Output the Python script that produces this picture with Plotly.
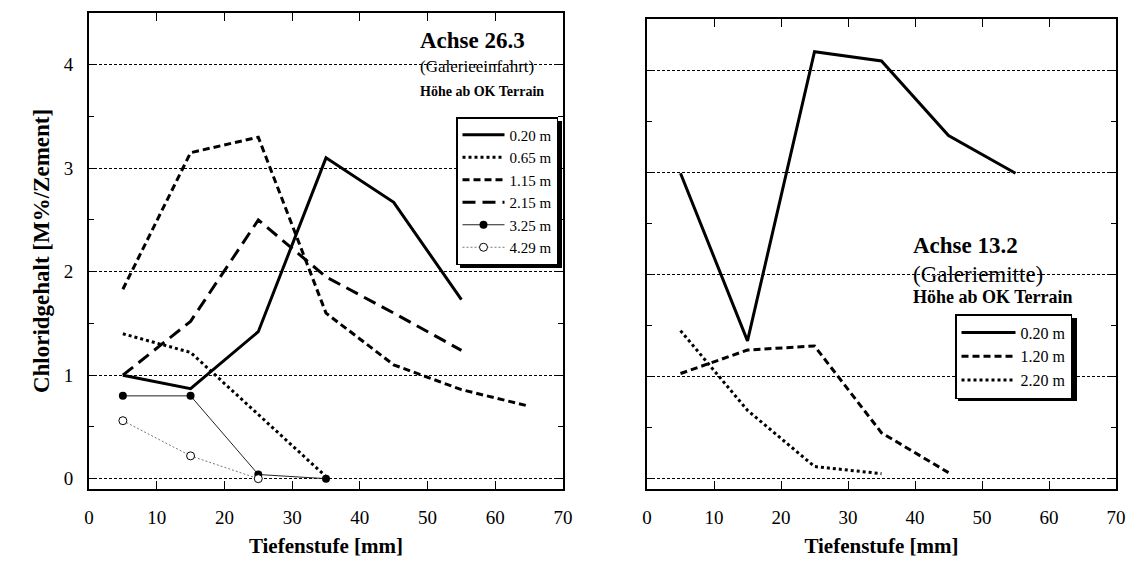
import plotly.graph_objects as go

W, H = 1136, 563
FONT = "Liberation Serif"

# ---- data (left: Achse 26.3) ----
depth = [5, 15, 25, 35, 45, 55, 65]
left_names = ["0.20 m", "0.65 m", "1.15 m", "2.15 m", "3.25 m", "4.29 m"]
l_020 = [1.00, 0.87, 1.42, 3.10, 2.67, 1.73]
l_065 = [1.40, 1.22, 0.62, 0.02]
l_115 = [1.83, 3.15, 3.30, 1.60, 1.10, 0.86, 0.70]
l_215 = [1.00, 1.52, 2.50, 1.95, 1.60, 1.24]
l_325 = [0.80, 0.80, 0.04, 0.00]
l_429 = [0.56, 0.22, 0.00]

# ---- data (right: Achse 13.2) ----
right_names = ["0.20 m", "1.20 m", "2.20 m"]
r_020 = [2.99, 1.35, 4.18, 4.09, 3.36, 2.99]
r_120 = [1.03, 1.26, 1.30, 0.45, 0.06]
r_220 = [1.45, 0.67, 0.12, 0.05]

xticks = [0, 10, 20, 30, 40, 50, 60, 70]
yticks = [0, 1, 2, 3, 4]
yminor = [0.5, 1.5, 2.5, 3.5]


def px(x):
    return x / W


def py(y):
    return 1 - y / H


fig = go.Figure()

lw = 3
fig.add_trace(go.Scatter(x=depth[:len(l_020)], y=l_020, name=left_names[0], mode="lines",
                         line=dict(color="black", width=lw), xaxis="x", yaxis="y", legend="legend"))
fig.add_trace(go.Scatter(x=depth[:len(l_065)], y=l_065, name=left_names[1], mode="lines",
                         line=dict(color="black", width=lw, dash="3px,3px"), xaxis="x", yaxis="y", legend="legend"))
fig.add_trace(go.Scatter(x=depth[:len(l_115)], y=l_115, name=left_names[2], mode="lines",
                         line=dict(color="black", width=lw, dash="7px,4px"), xaxis="x", yaxis="y", legend="legend"))
fig.add_trace(go.Scatter(x=depth[:len(l_215)], y=l_215, name=left_names[3], mode="lines",
                         line=dict(color="black", width=lw, dash="13px,7px"), xaxis="x", yaxis="y", legend="legend"))
fig.add_trace(go.Scatter(x=depth[:len(l_325)], y=l_325, name=left_names[4], mode="lines+markers",
                         line=dict(color="#222222", width=1),
                         marker=dict(symbol="circle", size=8, color="black"),
                         xaxis="x", yaxis="y", legend="legend"))
fig.add_trace(go.Scatter(x=depth[:len(l_429)], y=l_429, name=left_names[5], mode="lines+markers",
                         line=dict(color="#777777", width=1, dash="2px,2px"),
                         marker=dict(symbol="circle", size=8, color="white",
                                     line=dict(color="black", width=1)),
                         xaxis="x", yaxis="y", legend="legend"))

fig.add_trace(go.Scatter(x=depth[:len(r_020)], y=r_020, name=right_names[0], mode="lines",
                         line=dict(color="black", width=lw), xaxis="x2", yaxis="y2", legend="legend2"))
fig.add_trace(go.Scatter(x=depth[:len(r_120)], y=r_120, name=right_names[1], mode="lines",
                         line=dict(color="black", width=lw, dash="7px,4px"), xaxis="x2", yaxis="y2", legend="legend2"))
fig.add_trace(go.Scatter(x=depth[:len(r_220)], y=r_220, name=right_names[2], mode="lines",
                         line=dict(color="black", width=lw, dash="3px,3px"), xaxis="x2", yaxis="y2", legend="legend2"))

xcommon = dict(range=[0, 70], tickvals=xticks, ticks="inside", ticklen=8, tickwidth=1,
               tickcolor="black", showline=True, linewidth=2, linecolor="black", mirror="ticks",
               showgrid=False, zeroline=False, tickfont=dict(family=FONT, size=19, color="black"),
               automargin=False, fixedrange=True, ticklabelstandoff=10,
               title=dict(text="<b>Tiefenstufe [mm]</b>", font=dict(family=FONT, size=21, color="black"),
                          standoff=12))
ycommon = dict(range=[-0.1, 4.5], tickvals=yticks, ticks="inside", ticklen=7, tickwidth=1,
               tickcolor="black", showline=True, linewidth=2, linecolor="black", mirror="ticks",
               showgrid=True, gridcolor="black", gridwidth=1, griddash="3px,2px", zeroline=False,
               minor=dict(tickvals=yminor, ticks="inside", ticklen=5, tickcolor="black", showgrid=False),
               automargin=False, fixedrange=True,
               tickfont=dict(family=FONT, size=19, color="black"))

fig.update_layout(
    width=W, height=H,
    margin=dict(l=0, r=0, t=0, b=0),
    paper_bgcolor="white", plot_bgcolor="white",
    font=dict(family=FONT, color="black"),
    xaxis=dict(domain=[px(89), px(563)], anchor="y", **xcommon),
    yaxis=dict(domain=[py(489), py(13)], anchor="x", ticklabelstandoff=10,
               title=dict(text="<b>Chloridgehalt [M%/Zement]</b>",
                          font=dict(family=FONT, size=23, color="black"), standoff=8),
               **ycommon),
    xaxis2=dict(domain=[px(647), px(1116)], anchor="y2", **xcommon),
    yaxis2=dict(domain=[py(489), py(19)], anchor="x2", showticklabels=False, **ycommon),
    legend=dict(x=px(456), y=py(117), xanchor="left", yanchor="top", bgcolor="white",
                bordercolor="black", borderwidth=1.5, font=dict(family=FONT, size=15, color="black"),
                tracegroupgap=0, itemwidth=42),
    legend2=dict(x=px(955), y=py(314), xanchor="left", yanchor="top", bgcolor="white",
                 bordercolor="black", borderwidth=1.5, font=dict(family=FONT, size=16, color="black"),
                 tracegroupgap=0, itemwidth=54),
    showlegend=True,
)

# white backing behind the text blocks and drop shadows of legends
shapes = [
    dict(type="rect", xref="paper", yref="paper", x0=px(412), x1=px(537), y0=py(100), y1=py(27),
         fillcolor="white", line=dict(width=0), layer="between"),
    dict(type="rect", xref="paper", yref="paper", x0=px(907), x1=px(1078), y0=py(306), y1=py(233),
         fillcolor="white", line=dict(width=0), layer="between"),
    dict(type="rect", xref="paper", yref="paper", x0=px(460), x1=px(562), y0=py(268), y1=py(121),
         fillcolor="black", line=dict(width=0), layer="above"),
    dict(type="rect", xref="paper", yref="paper", x0=px(958), x1=px(1077), y0=py(401), y1=py(318),
         fillcolor="black", line=dict(width=0), layer="above"),
]
fig.update_layout(shapes=shapes)

ann = [
    dict(text="<b>Achse 26.3</b>", x=px(418), y=py(40), size=23),
    dict(text="(Galerieeinfahrt)", x=px(418), y=py(66), size=17),
    dict(text="<b>Höhe ab OK Terrain</b>", x=px(418), y=py(91), size=14),
    dict(text="<b>Achse 13.2</b>", x=px(911), y=py(246), size=23),
    dict(text="(Galeriemitte)", x=px(911), y=py(274), size=23),
    dict(text="<b>Höhe ab OK Terrain</b>", x=px(911), y=py(297), size=18),
]
for a in ann:
    fig.add_annotation(text=a["text"], x=a["x"], y=a["y"], xref="paper", yref="paper",
                       xanchor="left", yanchor="middle", showarrow=False,
                       font=dict(family=FONT, size=a["size"], color="black"))

fig.write_html("out.html")
